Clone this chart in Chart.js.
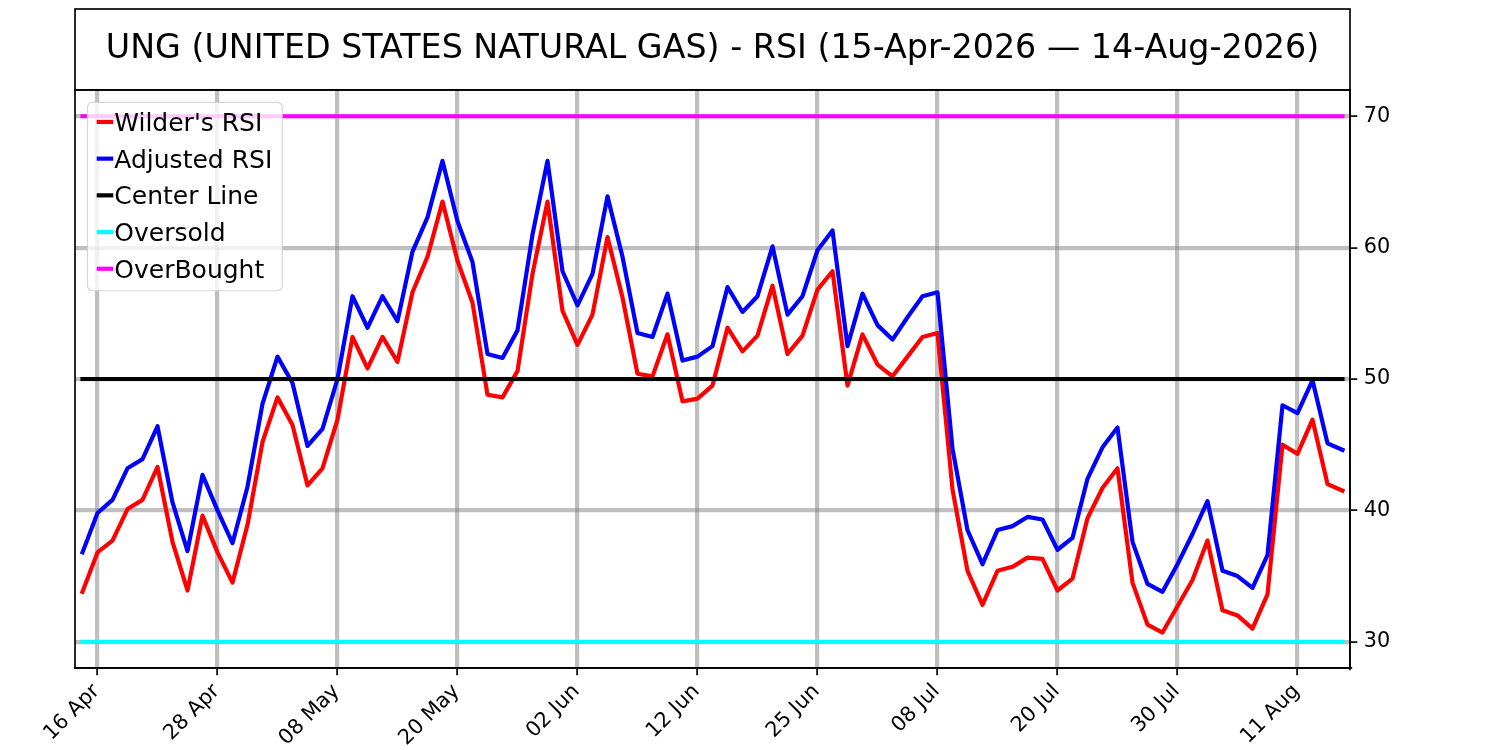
<!DOCTYPE html>
<html>
<head>
<meta charset="utf-8">
<script src="https://cdn.jsdelivr.net/npm/chart.js@4.4.1/dist/chart.umd.min.js"></script>
<style>
html,body{margin:0;padding:0;background:#ffffff;}
canvas{display:block;}
</style>
</head>
<body>
<canvas id="c" width="1500" height="750"></canvas>
<script>
// ---------------- DATA ----------------
const dates = [
  '15 Apr','16 Apr','17 Apr','20 Apr','21 Apr','22 Apr','23 Apr','24 Apr','27 Apr','28 Apr',
  '29 Apr','30 Apr','01 May','04 May','05 May','06 May','07 May','08 May','11 May','12 May',
  '13 May','14 May','15 May','18 May','19 May','20 May','21 May','22 May','26 May','27 May',
  '28 May','29 May','01 Jun','02 Jun','03 Jun','04 Jun','05 Jun','08 Jun','09 Jun','10 Jun',
  '11 Jun','12 Jun','15 Jun','16 Jun','17 Jun','18 Jun','22 Jun','23 Jun','24 Jun','25 Jun',
  '26 Jun','29 Jun','30 Jun','01 Jul','02 Jul','06 Jul','07 Jul','08 Jul','09 Jul','10 Jul',
  '13 Jul','14 Jul','15 Jul','16 Jul','17 Jul','20 Jul','21 Jul','22 Jul','23 Jul','24 Jul',
  '27 Jul','28 Jul','29 Jul','30 Jul','31 Jul','03 Aug','04 Aug','05 Aug','06 Aug','07 Aug',
  '10 Aug','11 Aug','12 Aug','13 Aug','14 Aug'
];
const tickLabels = ['16 Apr','28 Apr','08 May','20 May','02 Jun','12 Jun','25 Jun','08 Jul','20 Jul','30 Jul','11 Aug'];
const wildersRSI = [
  33.8, 36.8, 37.7, 40.1, 40.8, 43.3, 37.6, 33.9, 39.6, 36.8,
  34.5, 38.9, 45.2, 48.6, 46.5, 41.9, 43.2, 46.9, 53.2, 50.8,
  53.2, 51.3, 56.6, 59.3, 63.5, 59.0, 55.8, 48.8, 48.6, 50.6,
  58.0, 63.5, 55.2, 52.6, 54.9, 60.8, 56.2, 50.4, 50.2, 53.4,
  48.3, 48.5, 49.5, 53.9, 52.1, 53.3, 57.1, 51.9, 53.3, 56.8,
  58.2, 49.5, 53.4, 51.1, 50.2, 51.7, 53.2, 53.5, 41.6, 35.4,
  32.8, 35.4, 35.7, 36.4, 36.3, 33.9, 34.8, 39.4, 41.7, 43.2,
  34.5, 31.3, 30.7, 32.7, 34.7, 37.7, 32.4, 32.0, 31.0, 33.6,
  45.0, 44.3, 46.9, 42.0, 41.5
];
const adjustedRSI = [
  36.8, 39.8, 40.8, 43.2, 43.9, 46.4, 40.6, 36.9, 42.7, 40.0,
  37.5, 41.8, 48.1, 51.7, 49.7, 44.9, 46.2, 50.0, 56.3, 53.9,
  56.3, 54.4, 59.7, 62.3, 66.6, 62.0, 58.9, 51.9, 51.6, 53.7,
  61.0, 66.6, 58.2, 55.6, 58.0, 63.9, 59.3, 53.5, 53.2, 56.5,
  51.4, 51.7, 52.5, 57.0, 55.1, 56.3, 60.1, 54.9, 56.3, 59.8,
  61.3, 52.5, 56.5, 54.1, 53.0, 54.7, 56.3, 56.6, 44.7, 38.5,
  35.9, 38.5, 38.8, 39.5, 39.3, 37.0, 37.9, 42.4, 44.8, 46.3,
  37.6, 34.4, 33.8, 35.9, 38.2, 40.7, 35.4, 35.0, 34.1, 36.6,
  48.0, 47.4, 49.9, 45.1, 44.6
];
const centerLevel = 50;
const oversoldLevel = 30;
const overboughtLevel = 70;
const yTickValues = [30, 40, 50, 60, 70];
const titleText = 'UNG (UNITED STATES NATURAL GAS) - RSI (15-Apr-2026 \u2014 14-Aug-2026)';

// ---------------- STYLE ----------------
const FONT = 'DejaVu Sans';
const LW = 4.2;
const GRID = 'rgba(128,128,128,0.5)';
const SPINE = 1.67;
const TICKFS = 20.8;

const levelLine = (label, level, color, order) => ({
  label, data: dates.map(() => level), borderColor: color, backgroundColor: color,
  borderWidth: LW, pointRadius: 0, tension: 0, fill: false, order,
  borderCapStyle: 'square', borderJoinStyle: 'round'
});

const framePlugin = {
  id: 'frame',
  afterDraw(chart) {
    const {ctx, chartArea: a} = chart;
    ctx.save();
    ctx.strokeStyle = '#000';
    ctx.lineWidth = SPINE;
    ctx.strokeRect(a.left, a.top, a.right - a.left, a.bottom - a.top);
    ctx.strokeRect(a.left, 9, a.right - a.left, a.top - 9);
    ctx.restore();
  }
};

const legendPlugin = {
  id: 'mplLegend',
  afterDatasetsDraw(chart) {
    const {ctx, chartArea: a} = chart;
    const fs = 25;
    const x0 = a.left + 12.5, y0 = a.top + 12.5;
    const rowH = 36.7;
    const ds = chart.data.datasets;
    ctx.save();
    ctx.font = fs + 'px "' + FONT + '"';
    let maxW = 0;
    ds.forEach(d => { maxW = Math.max(maxW, ctx.measureText(d.label).width); });
    const textX = x0 + 26.8;
    const w = textX - x0 + maxW + 10;
    const h = 19.5 + rowH * (ds.length - 1) + 22;
    const r = 5;
    ctx.beginPath();
    ctx.moveTo(x0 + r, y0);
    ctx.lineTo(x0 + w - r, y0);
    ctx.arcTo(x0 + w, y0, x0 + w, y0 + r, r);
    ctx.lineTo(x0 + w, y0 + h - r);
    ctx.arcTo(x0 + w, y0 + h, x0 + w - r, y0 + h, r);
    ctx.lineTo(x0 + r, y0 + h);
    ctx.arcTo(x0, y0 + h, x0, y0 + h - r, r);
    ctx.lineTo(x0, y0 + r);
    ctx.arcTo(x0, y0, x0 + r, y0, r);
    ctx.closePath();
    ctx.fillStyle = 'rgba(255,255,255,0.8)';
    ctx.fill();
    ctx.strokeStyle = 'rgba(204,204,204,0.8)';
    ctx.lineWidth = 1.2;
    ctx.stroke();
    ds.forEach((d, i) => {
      const cy = y0 + 19.5 + i * rowH;
      ctx.beginPath();
      ctx.strokeStyle = d.borderColor;
      ctx.lineWidth = LW;
      ctx.lineCap = 'square';
      ctx.moveTo(x0 + 11.3, cy);
      ctx.lineTo(x0 + 23.7, cy);
      ctx.stroke();
      ctx.fillStyle = '#000';
      ctx.textBaseline = 'alphabetic';
      ctx.textAlign = 'left';
      ctx.fillText(d.label, textX, cy + 0.729 * fs / 2);
    });
    ctx.restore();
  }
};

new Chart(document.getElementById('c'), {
  type: 'line',
  data: {
    labels: dates,
    datasets: [
      { label: "Wilder's RSI", data: wildersRSI, borderColor: '#ff0000', backgroundColor: '#ff0000',
        borderWidth: LW, pointRadius: 0, tension: 0, fill: false, order: 5,
        borderCapStyle: 'square', borderJoinStyle: 'round' },
      { label: 'Adjusted RSI', data: adjustedRSI, borderColor: '#0000ff', backgroundColor: '#0000ff',
        borderWidth: LW, pointRadius: 0, tension: 0, fill: false, order: 4,
        borderCapStyle: 'square', borderJoinStyle: 'round' },
      levelLine('Center Line', centerLevel, '#000000', 3),
      levelLine('Oversold', oversoldLevel, '#00ffff', 2),
      levelLine('OverBought', overboughtLevel, '#ff00ff', 1)
    ]
  },
  options: {
    responsive: false,
    animation: false,
    devicePixelRatio: 1,
    events: [],
    layout: { padding: { left: 75, right: 0, top: 9, bottom: 0 } },
    plugins: {
      legend: { display: false },
      tooltip: { enabled: false },
      title: {
        display: true, text: titleText, fullSize: false, color: '#000',
        font: { family: FONT, size: 33.3, weight: 'normal', lineHeight: 1.2 },
        padding: { top: 20.5, bottom: 20.5 }
      }
    },
    scales: {
      x: {
        type: 'category',
        offset: true,
        afterBuildTicks: (s) => { s.ticks = s.ticks.filter(t => tickLabels.includes(dates[t.value])); },
        afterFit: (s) => { s.height = 82; },
        ticks: {
          autoSkip: false, minRotation: 45, maxRotation: 45, padding: 4, labelOffset: -1,
          color: '#000', font: { family: FONT, size: TICKFS }
        },
        grid: { color: GRID, lineWidth: LW, offset: false, tickColor: '#000', tickLength: 7.3, tickWidth: SPINE },
        border: { display: true, color: '#000', width: SPINE }
      },
      y: {
        type: 'linear',
        position: 'right',
        min: 28, max: 72,
        afterBuildTicks: (s) => { s.ticks = yTickValues.map(v => ({ value: v })); },
        afterFit: (s) => { s.width = 150; },
        ticks: { color: '#000', padding: 6.5, font: { family: FONT, size: TICKFS } },
        grid: { color: GRID, lineWidth: LW, tickColor: '#000', tickLength: 7.3, tickWidth: SPINE },
        border: { display: true, color: '#000', width: SPINE }
      }
    }
  },
  plugins: [legendPlugin, framePlugin]
});
</script>
</body>
</html>
